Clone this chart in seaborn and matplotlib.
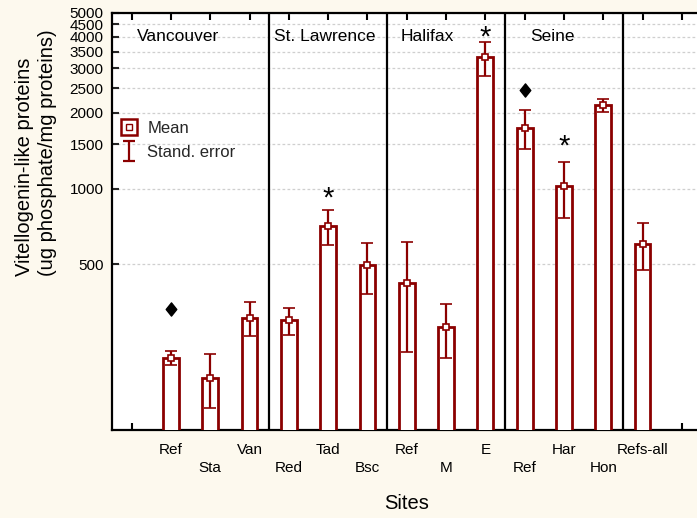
import numpy as np
import pandas as pd
import matplotlib
matplotlib.use("Agg")
import matplotlib.pyplot as plt
import matplotlib.transforms as mtransforms
import seaborn as sns
from matplotlib.lines import Line2D
from matplotlib.path import Path
from matplotlib.container import ErrorbarContainer
from matplotlib.legend_handler import HandlerErrorbar, HandlerTuple

# ---- data -------------------------------------------------------------
sites = ["Ref", "Sta", "Van", "Red", "Tad", "Bsc", "Ref", "M", "E",
         "Ref", "Har", "Hon", "Refs-all"]
mean_vtg = [213, 177, 307, 300, 708, 495, 420, 281, 3314, 1740, 1020, 2140, 603]
se_vtg = [13, 43, 48, 37, 113, 115, 196, 68, 508, 302, 255, 120, 127]

regions = ["Vancouver", "St. Lawrence", "Halifax", "Seine"]
region_sizes = [3, 3, 3, 3]

# significance marks: site index and height of the symbol
star_sites = [4, 8, 10]
star_height = [985, 4290, 1580]
diamond_sites = [0, 9]
diamond_height = [333, 2460]

y_ticks = [500, 1000, 1500, 2000, 2500, 3000, 3500, 4000, 4500, 5000]

# ---- style ------------------------------------------------------------
BG = "#FDF9EE"
DARK = "#8B0000"
region_label_x = [0.13, 3.62, 6.85, 10.15]

sns.set_theme(style="white")
plt.rcParams["font.family"] = ["Liberation Sans", "DejaVu Sans"]

fig = plt.figure(figsize=(6.97, 5.18), dpi=100, facecolor=BG)
W, H = 697, 518
ax = fig.add_axes([112 / W, 88 / H, 589.5 / W, 417.5 / H])
ax.set_facecolor("white")

pos = np.arange(1, len(sites) + 1)
df = pd.DataFrame({"pos": pos, "mean": mean_vtg, "se": se_vtg})

sns.barplot(data=df, x="pos", y="mean", native_scale=True, width=0.4,
            color="white", edgecolor=DARK, linewidth=2, errorbar=None,
            saturation=1, ax=ax, zorder=3)

ax.errorbar(df["pos"], df["mean"], yerr=df["se"], fmt="s", ms=5,
            mfc="white", mec=DARK, mew=1.2, ecolor=DARK, elinewidth=1.6,
            capsize=4.2, capthick=1.6, zorder=4)

ax.set_yscale("log")
ax.set_ylim(110, 5000)
ax.set_xlim(-0.5, len(sites) + 1.5)
ax.set_ylabel("")

ax.set_yticks(y_ticks)
ax.set_yticklabels([str(v) for v in y_ticks])
ax.yaxis.set_minor_locator(matplotlib.ticker.NullLocator())
ax.grid(axis="y", which="major", color="#cfcfcf", linestyle=(0, (2.2, 1.8)),
        linewidth=0.9, zorder=0)
ax.set_axisbelow(True)

# site labels staggered on two rows
xt = np.arange(0, len(sites) + 2)
xl = [""] + [s if i % 2 == 0 else "\n" + s for i, s in enumerate(sites)] + [""]
ax.set_xticks(xt)
ax.set_xticklabels(xl, fontsize=11, linespacing=1.45)

ax.tick_params(axis="x", which="major", direction="in", length=5, width=1.5,
               top=True, bottom=True, pad=9, colors="black", labelcolor="black")
ax.tick_params(axis="y", which="major", direction="in", length=5, width=1.5,
               left=True, pad=6, labelsize=11, labelcolor="black")
for side in ["left", "bottom", "top", "right"]:
    ax.spines[side].set_color("black")
    ax.spines[side].set_linewidth(1.6)

# region separators and names
bounds = np.cumsum(region_sizes) + 0.5
for b in bounds:
    ax.axvline(b, color="black", lw=1.6, zorder=5)
for name, x in zip(regions, region_label_x):
    ax.text(x, 0.932, name, transform=ax.get_xaxis_transform(),
            fontsize=12.5, ha="left", va="baseline", color="black")

# significance symbols
diamond = Path([(0, 1), (0.8, 0), (0, -1), (-0.8, 0), (0, 1)],
               [Path.MOVETO, Path.LINETO, Path.LINETO, Path.LINETO, Path.CLOSEPOLY])
ax.plot(pos[diamond_sites], diamond_height, ls="none", marker=diamond,
        ms=9.5, color="black", zorder=6)
star_shift = mtransforms.offset_copy(ax.transData, fig=fig, x=0, y=-6, units="points")
for i, h in zip(star_sites, star_height):
    ax.text(pos[i], h, "*", fontsize=21, ha="center", va="center",
            color="black", zorder=6, transform=star_shift)

# axis titles
ax.set_xlabel("Sites", fontsize=14.5, labelpad=13, color="black")
fig.text(36 / W, 1 - 276 / H,
         "Vitellogenin-like proteins\n(ug phosphate/mg proteins)",
         rotation=90, ha="center", va="bottom", multialignment="left",
         fontsize=14.5, linespacing=1.25, color="black")

# legend
mean_handle = (Line2D([], [], marker="s", ms=11.5, mfc="white", mec=DARK,
                      mew=1.8, ls="none"),
               Line2D([], [], marker="s", ms=3.8, mfc="white", mec=DARK,
                      mew=1, ls="none"))
err_handle = ax.errorbar([np.nan], [np.nan], yerr=[1], fmt="none", ecolor=DARK,
                         elinewidth=1.6, capsize=4.6, capthick=1.6)
ax.legend([mean_handle, err_handle], ["Mean", "Stand. error"],
          loc="upper left", bbox_to_anchor=(119 / W, 1 - 121 / H),
          bbox_transform=fig.transFigure, frameon=False, fontsize=12,
          handlelength=1.2, handletextpad=0.5, labelspacing=0.55,
          borderpad=0, borderaxespad=0,
          handler_map={tuple: HandlerTuple(ndivide=1),
                       ErrorbarContainer: HandlerErrorbar(xerr_size=0.6)})

fig.savefig("out.png", dpi=100, facecolor=BG)
